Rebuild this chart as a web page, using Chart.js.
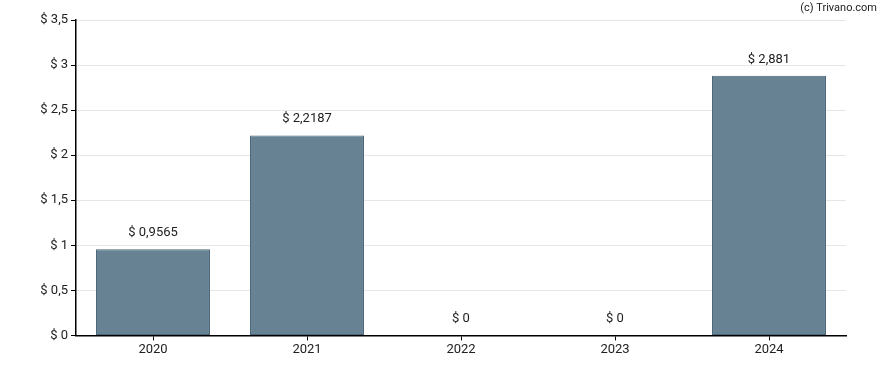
<!DOCTYPE html>
<html><head><meta charset="utf-8">
<script src="https://cdn.jsdelivr.net/npm/chart.js@4/dist/chart.umd.min.js"></script>
<style>html,body{margin:0;padding:0;background:#fff}#wrap{width:888px;height:370px;position:relative}</style>
</head><body><div id="wrap"><canvas id="c" width="888" height="370"></canvas></div>
<script>
const categories = ["2020","2021","2022","2023","2024"];
const values = [0.9565, 2.2187, 0, 0, 2.881];
const valueLabels = ["$ 0,9565","$ 2,2187","$ 0","$ 0","$ 2,881"];
const yTicks = [0,0.5,1,1.5,2,2.5,3,3.5];

function fmt(v){ return "$ " + String(v).replace(".", ","); }

const labelPlugin = {
  id: 'vlabels',
  afterDatasetsDraw(chart){
    const ctx = chart.ctx;
    const meta = chart.getDatasetMeta(0);
    ctx.save();
    ctx.font = '13px Roboto';
    ctx.fillStyle = '#222';
    ctx.textAlign = 'center';
    ctx.textBaseline = 'bottom';
    meta.data.forEach((bar, i) => {
      ctx.fillText(valueLabels[i], bar.x, bar.y - 10);
    });
    ctx.font = '11px Roboto';
    ctx.textAlign = 'right';
    ctx.textBaseline = 'middle';
    ctx.fillText('(c) Trivano.com', 877, 8);
    ctx.restore();
  }
};

new Chart(document.getElementById('c'), {
  type: 'bar',
  data: {
    labels: categories,
    datasets: [{
      data: values,
      backgroundColor: 'rgb(103,131,147)',
      borderColor: 'rgb(74,100,120)',
      borderWidth: 1,
      borderSkipped: false,
      categoryPercentage: 0.74,
      barPercentage: 1.0
    }]
  },
  options: {
    responsive: false,
    animation: false,
    layout: { padding: { top: 20, right: 42, left: 0, bottom: 10 } },
    plugins: { legend: { display: false }, tooltip: { enabled: false } },
    scales: {
      x: {
        grid: { display: true, drawOnChartArea: false, offset: false, tickLength: 5, tickColor: '#000' },
        border: { color: '#000', width: 1.5 },
        ticks: { font: { family: 'Roboto', size: 13 }, color: '#222', padding: 2 }
      },
      y: {
        min: 0, max: 3.5,
        afterFit(s){ s.width = 76; },
        afterBuildTicks(s){ s.ticks = yTicks.map(v => ({ value: v })); },
        grid: { color: '#e6e6e6', tickLength: 5, tickColor: '#000' },
        border: { color: '#000', width: 1.5 },
        ticks: { font: { family: 'Roboto', size: 13 }, color: '#222', padding: 3, callback: v => fmt(v) }
      }
    }
  },
  plugins: [labelPlugin]
});
</script></body></html>
